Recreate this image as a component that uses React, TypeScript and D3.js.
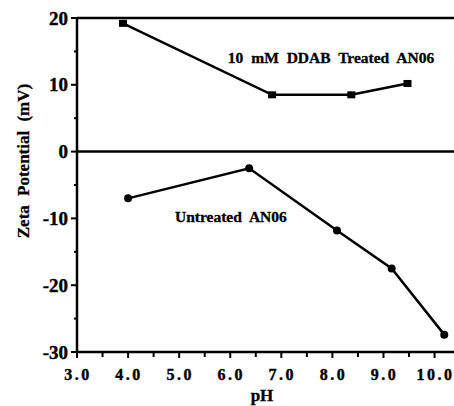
import * as d3 from 'd3'

const treatedPH = [3.9, 6.82, 8.37, 9.47]
const treatedZeta = [19.2, 8.5, 8.5, 10.2]
const untreatedPH = [4.0, 6.37, 8.09, 9.16, 10.19]
const untreatedZeta = [-7.0, -2.5, -11.8, -17.5, -27.4]
const xTicks = [3, 4, 5, 6, 7, 8, 9, 10]
const yTicks = [20, 10, 0, -10, -20, -30]

const W = 454
const H = 406
const FONT = '"Liberation Serif", "Times New Roman", serif'

export default function App() {
  const x = d3.scaleLinear().domain([3, 10.4]).range([77, 455])
  const y = d3.scaleLinear().domain([-30, 20]).range([352, 18])

  const line = d3.line<[number, number]>()
    .x(d => x(d[0]))
    .y(d => y(d[1]))

  const treated: [number, number][] = treatedPH.map((p, i) => [p, treatedZeta[i]])
  const untreated: [number, number][] = untreatedPH.map((p, i) => [p, untreatedZeta[i]])

  const minorX = d3.range(3.5, 10.4, 0.5).filter(v => !xTicks.includes(v))
  const minorY = [15, 5, -5, -15, -25]

  return (
    <svg width={W} height={H} style={{ position: 'absolute', left: 0, top: 0 }}
      fontFamily={FONT} fontWeight="bold">
      <rect width={W} height={H} fill="#fff" />

      {/* frame lines */}
      <line x1={x(3)} x2={W} y1={y(20)} y2={y(20)} stroke="#000" strokeWidth={2.5} />
      <line x1={x(3)} x2={W} y1={y(0)} y2={y(0)} stroke="#000" strokeWidth={2.5} />
      <line x1={x(3)} x2={W} y1={y(-30)} y2={y(-30)} stroke="#000" strokeWidth={2.5} />
      <line x1={x(3)} x2={x(3)} y1={y(20) - 1} y2={y(-30) + 1} stroke="#000" strokeWidth={2.5} />

      {/* y ticks */}
      {yTicks.map(v => (
        <g key={`y${v}`}>
          <line x1={x(3) - 6} x2={x(3)} y1={y(v)} y2={y(v)} stroke="#000" strokeWidth={2} />
          <text x={68} y={y(v)} dy="0.35em" textAnchor="end" fontSize={19}
            stroke="#000" strokeWidth={0.4}>{v}</text>
        </g>
      ))}
      {minorY.map(v => (
        <line key={`my${v}`} x1={x(3) - 3} x2={x(3)} y1={y(v)} y2={y(v)} stroke="#000" strokeWidth={2} />
      ))}

      {/* x ticks */}
      {xTicks.map(v => (
        <g key={`x${v}`}>
          <line x1={x(v)} x2={x(v)} y1={y(-30)} y2={y(-30) + 6} stroke="#000" strokeWidth={2} />
          <text x={x(v) + 1} y={380} textAnchor="middle" fontSize={16} letterSpacing={2.5}
            stroke="#000" strokeWidth={0.4}>
            {v.toFixed(1)}
          </text>
        </g>
      ))}
      {minorX.map(v => (
        <line key={`mx${v}`} x1={x(v)} x2={x(v)} y1={y(-30)} y2={y(-30) + 5} stroke="#000" strokeWidth={2} />
      ))}

      {/* series */}
      <path d={line(treated) ?? ''} fill="none" stroke="#000" strokeWidth={2.5} />
      {treated.map((d, i) => (
        <rect key={`t${i}`} x={x(d[0]) - 4} y={y(d[1]) - 3.5} width={8} height={7} fill="#000" />
      ))}
      <path d={line(untreated) ?? ''} fill="none" stroke="#000" strokeWidth={2.5} />
      {untreated.map((d, i) => (
        <circle key={`u${i}`} cx={x(d[0])} cy={y(d[1])} r={4} fill="#000" />
      ))}

      {/* annotations */}
      <g stroke="#000" strokeWidth={0.3}>
        <text x={331} y={63} textAnchor="middle" fontSize={15.5} wordSpacing={4}>10 mM DDAB Treated AN06</text>
        <text x={175} y={222} fontSize={15.5} wordSpacing={4}>Untreated AN06</text>
      </g>

      {/* axis titles */}
      <g stroke="#000" strokeWidth={0.3}>
        <text transform={`translate(29, 161) rotate(-90)`} textAnchor="middle" fontSize={17} wordSpacing={5}>
          Zeta Potential (mV)
        </text>
        <text x={262} y={401} textAnchor="middle" fontSize={17}>pH</text>
      </g>
    </svg>
  )
}
